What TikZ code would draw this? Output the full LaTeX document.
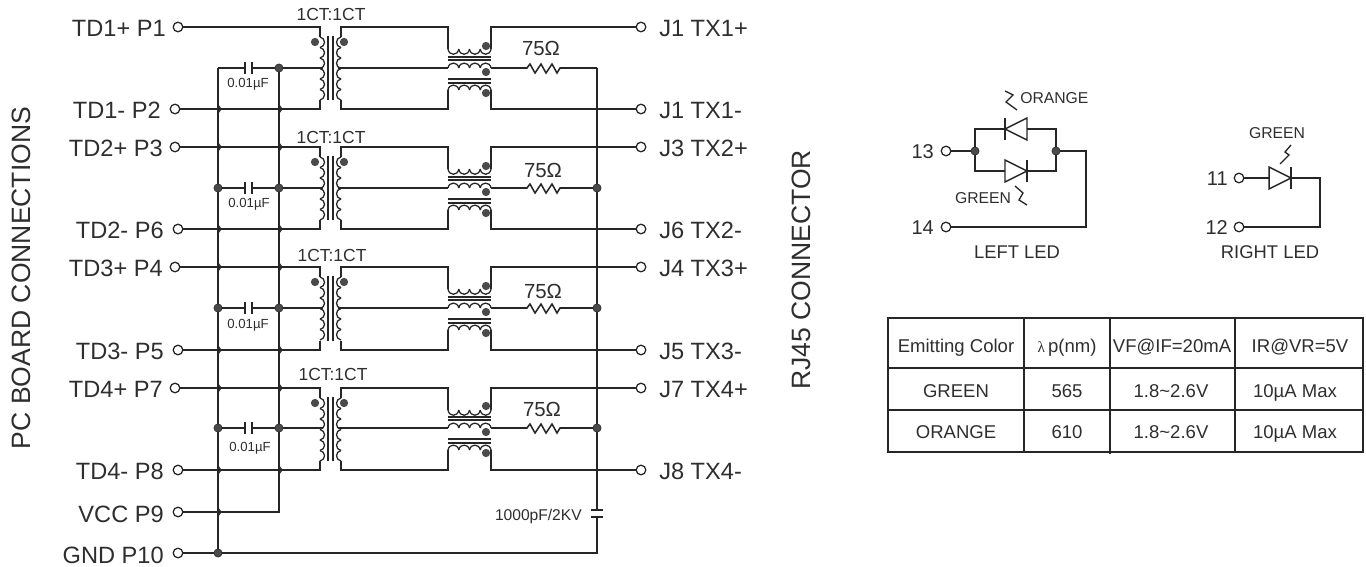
\documentclass[tikz,border=0pt]{standalone}
\usepackage{fontspec}
\setmainfont{Liberation Sans}
\newfontfamily\serifgr{Liberation Serif}
\definecolor{ink}{HTML}{262626}
\definecolor{txt}{HTML}{2E2E2E}
\definecolor{dotc}{HTML}{4A4A4A}
\newcommand\fsz[1]{\fontsize{#1}{#1}\selectfont}
\newcommand\coilrun[5]{% vertical coil: x, y0, bulge, count, pitch
  \foreach \k in {1,...,#4}{%
    \pgfmathsetmacro\ya{#2+(\k-1)*#5}\pgfmathsetmacro\yb{#2+\k*#5}%
    \pgfmathsetmacro\xc{#1+(#3)}%
    \draw[coilline] (#1,\ya) .. controls (\xc,\ya+1) and (\xc,\yb-1) .. (#1,\yb);}}
\newcommand\coilrunh[5]{% horizontal coil: y, x0, bulge, count, pitch
  \foreach \k in {1,...,#4}{%
    \pgfmathsetmacro\xa{#2+(\k-1)*#5}\pgfmathsetmacro\xb{#2+\k*#5}%
    \pgfmathsetmacro\yc{#1+(#3)}%
    \draw[coilline] (\xa,#1) .. controls (\xa+1,\yc) and (\xb-1,\yc) .. (\xb,#1);}}
\tikzset{
  wire/.style={draw=ink,line width=1.15pt,line join=miter},
  coilline/.style={draw=ink,line width=0.95pt},
  coreline/.style={draw=ink,line width=0.95pt},
  term/.style={circle,draw=ink,fill=white,line width=0.95pt,inner sep=0pt,minimum size=7.2pt},
  jdot/.style={circle,fill=dotc,draw=ink,line width=0.4pt,inner sep=0pt,minimum size=6.2pt},
  pdot/.style={circle,fill=dotc,inner sep=0pt,minimum size=6.2pt},
  biglab/.style={text=txt,font=\fsz{17.7},inner sep=0pt},
  ratio/.style={text=txt,font=\fsz{13.1},inner sep=0pt},
  ohm/.style={text=txt,font=\fsz{15.3},inner sep=0pt,text height=11pt,text depth=0pt},
  capv/.style={text=txt,font=\fsz{9.9},inner sep=0pt,text height=7.1pt,text depth=0pt},
  sidelab/.style={text=txt,font=\fsz{19.9},inner sep=0pt,rotate=90},
  ledlab/.style={text=txt,font=\fsz{11.8},inner sep=0pt},
  pinlab/.style={text=txt,font=\fsz{15},inner sep=0pt},
  ledname/.style={text=txt,font=\fsz{13.8},inner sep=0pt},
  tabtxt/.style={text=txt,font=\fsz{13.9},inner sep=0pt,text height=10pt,text depth=0pt},
  diode/.style={draw=ink,line width=1.1pt,line join=miter},
  glow/.style={draw=ink,line width=1pt},
}
\begin{document}
\begin{tikzpicture}[x=0.75pt,y=-0.75pt]
\useasboundingbox (0,0) rectangle (1366,567);
% side labels
\node[sidelab] (pcb) at (21,278) {PC BOARD CONNECTIONS};
\node[sidelab] (rj) at (801,270) {RJ45 CONNECTOR};
% channels
\foreach \n/\t/\c/\b/\xa/\xb/\la/\lb/\ra/\rb/\tx/\ty/\ox/\oy/\cx/\cy in {
  1/27/68/109/178/175/TD1+ P1/TD1- P2/J1 TX1+/J1 TX1-/331/14/541/48/248/83,
  2/147/188/229/175/178/TD2+ P3/TD2- P6/J3 TX2+/J6 TX2-/331/137/543/170/249/203,
  3/267/308/350/175/178/TD3+ P4/TD3- P5/J4 TX3+/J5 TX3-/332/255/543/291/248/324,
  4/388/428/470/175/178/TD4+ P7/TD4- P8/J7 TX4+/J8 TX4-/333/374/542/409/250/447}{
  \node[term] (lt\n) at (\xa,\t) {};
  \node[term] (lb\n) at (\xb,\b) {};
  \node[term] (rt\n) at (641,\t) {};
  \node[term] (rb\n) at (641,\b) {};
  \node[biglab,anchor=east] (ltl\n) at (\xa-12,\t+1) {\la};
  \node[biglab,anchor=east] (lbl\n) at (\xb-14,\b+1) {\lb};
  \node[biglab,anchor=west] (rtl\n) at (659,\t+1) {\ra};
  \node[biglab,anchor=west] (rbl\n) at (659,\b+1) {\rb};
  \node[ratio] (ct\n) at (\tx,\ty) {1CT:1CT};
  \node[ohm] (om\n) at (\ox,\oy) {75Ω};
  \node[capv] (cv\n) at (\cx,\cy) {0.01µF};
  \coordinate (pa\n) at (320,\t+10);
  \coordinate (pz\n) at (320,\b-9);
  \coordinate (sa\n) at (341,\t+10);
  \coordinate (sz\n) at (341,\b-9);
  \coordinate (ca\n) at (448,\t+22);
  \coordinate (cz\n) at (491,\t+22);
  \coordinate (da\n) at (448,\c+22);
  \coordinate (dz\n) at (491,\c+22);
  \coordinate (busa\n) at (218,\c);
  \coordinate (busb\n) at (279,\c);
  \coordinate (busr\n) at (597,\c);
  % primary and secondary wires
  \draw[wire] (lt\n.east) -| (pa\n);
  \draw[wire] (lb\n.east) -| (pz\n);
  \draw[wire] (rt\n.west) -| (cz\n);
  \draw[wire] (rb\n.west) -| (dz\n);
  \draw[wire] (sa\n) |- (448,\t) -- (ca\n);
  \draw[wire] (sz\n) |- (448,\b) -- (da\n);
  % centre tap with capacitor
  \draw[wire] (busa\n) -- (245,\c);
  \draw[wire] (252,\c) -- (323,\c);
  \draw[wire] (245,\c-6) -- (245,\c+6);
  \draw[wire] (252,\c-6) -- (252,\c+6);
  \draw[wire] (338,\c) -- (448,\c);
  \draw[wire] (491,\c) -- (527,\c) -- (530,\c-4) -- (535,\c+5) -- (541,\c-4) -- (546,\c+5) -- (552,\c-4) -- (557,\c+5) -- (560,\c) -- (busr\n);
  % isolation transformer
  \coilrun{320}{\t+10}{6}{6}{10.5}
  \coilrun{341}{\t+10}{-6}{6}{10.5}
  \draw[coreline] (328,\t+9) -- (328,\b-9);
  \draw[coreline] (333,\t+9) -- (333,\b-9);
  \node[pdot] (pd\n) at (315,\t+15) {};
  \node[pdot] (sd\n) at (344,\t+15) {};
  % common mode choke
  \coilrunh{\t+22}{448}{7}{4}{10.75}
  \coilrunh{\c}{448}{-6.5}{4}{10.75}
  \coilrunh{\c+22}{448}{-6.5}{4}{10.75}
  \draw[coreline] (448,\c-11) -- (491,\c-11);
  \draw[coreline] (448,\c-8) -- (491,\c-8);
  \draw[coreline] (448,\c+11) -- (491,\c+11);
  \draw[coreline] (448,\c+15) -- (491,\c+15);
  \node[pdot] (ka\n) at (486,\c-22) {};
  \node[pdot] (kb\n) at (486,\c+4) {};
  \node[pdot] (kc\n) at (486,\c+25) {};
  % small hops of the buses
  \draw[wire,line width=0.9pt] (218,\b-4) -- (221,\b) -- (218,\b+4);
  \draw[wire,line width=0.9pt] (279,\b-4) -- (282,\b) -- (279,\b+4);
}
\foreach \t in {147,267,388}{
  \draw[wire,line width=0.9pt] (218,\t-4) -- (221,\t) -- (218,\t+4);
  \draw[wire,line width=0.9pt] (279,\t-4) -- (282,\t) -- (279,\t+4);
}
% bottom terminals
\node[term] (vcc) at (178,512) {};
\node[term] (gnd) at (178,553) {};
\node[biglab,anchor=east] (vccl) at (164,514) {VCC P9};
\node[biglab,anchor=east] (gndl) at (164,555) {GND P10};
\coordinate (vb) at (279,512);
\coordinate (gr) at (597,553);
\coordinate (capt) at (597,510);
\coordinate (capb) at (597,517);
\node[jdot] (gj) at (218,553) {};
% buses
\draw[wire] (busa1) -- (gj);
\draw[wire] (busb1) -- (vb) -- (vcc.east);
\draw[wire] (busr1) -- (capt);
\draw[wire] (capb) -- (gr) -- (gj) -- (gnd.east);
\draw[wire] (591,510) -- (603,510);
\draw[wire] (591,517) -- (603,517);
\draw[wire,line width=0.9pt] (218,508) -- (221,512) -- (218,516);
\node[capv,font=\fsz{11.7},text height=8.4pt,anchor=east] (capl) at (582,515) {1000pF/2KV};
% junction dots
\node[jdot] at (busb1) {};
\foreach \n in {2,3,4}{
  \node[jdot] (ja\n) at (busa\n) {};
  \node[jdot] (jb\n) at (busb\n) {};
  \node[jdot] (jr\n) at (busr\n) {};
}
% left LED
\node[term] (p13) at (946,151) {};
\node[term] (p14) at (946,227) {};
\node[jdot] (jl) at (975,151) {};
\node[jdot] (jh) at (1056,151) {};
\node[pinlab,anchor=east] (n13) at (934,152) {13};
\node[pinlab,anchor=east] (n14) at (934,228) {14};
\draw[wire] (p13) -- (jl);
\draw[wire] (jl) |- (1005,129);
\draw[wire] (1027,129) -| (jh);
\draw[wire] (jl) |- (1005,171);
\draw[wire] (1027,171) -| (jh);
\draw[wire] (jh) -- (1086,151) |- (p14.east);
\draw[diode] (1027,118) -- (1027,140) -- (1005,129) -- cycle;
\draw[diode] (1005,118) -- (1005,140);
\draw[diode] (1005,160) -- (1005,182) -- (1027,171) -- cycle;
\draw[diode] (1027,160) -- (1027,182);
\draw[glow] (1005,91) -- (1013,95) -- (1006,102) -- (1017,110);
\draw[glow] (1015,186) -- (1023,193) -- (1019,200) -- (1027,205);
\node[ledlab,anchor=west] (lo) at (1020,98) {ORANGE};
\node[ledlab] (lg) at (983,198) {GREEN};
\node[ledname] (ll) at (1017,252) {LEFT LED};
% right LED
\node[term] (p11) at (1239,178) {};
\node[term] (p12) at (1239,227) {};
\node[pinlab,anchor=east] (n11) at (1228,179) {11};
\node[pinlab,anchor=east] (n12) at (1228,228) {12};
\draw[wire] (p11) -- (1269,178);
\draw[wire] (1291,178) -| (1320,227) -- (p12.east);
\draw[diode] (1269,167) -- (1269,189) -- (1291,178) -- cycle;
\draw[diode] (1291,167) -- (1291,189);
\draw[glow] (1291,145) -- (1285,152) -- (1289,155) -- (1280,164);
\node[ledlab] (rg) at (1277,133) {GREEN};
\node[ledname] (rl) at (1270,252) {RIGHT LED};
% table
\draw[wire] (888,318) rectangle (1363,452);
\draw[wire] (888,368) -- (1363,368);
\draw[wire] (888,410) -- (1363,410);
\draw[wire] (1024,318) -- (1024,452);
\draw[wire] (1110,318) -- (1110,454);
\draw[wire] (1235,318) -- (1235,452);
\node[tabtxt] (h1) at (956,346) {Emitting Color};
\node[tabtxt] (h2) at (1067,346) {{\serifgr\fsz{11.5}λ}\,p(nm)};
\node[tabtxt] (h3) at (1172,346) {VF@IF=20mA};
\node[tabtxt] (h4) at (1300,346) {IR@VR=5V};
\node[tabtxt] (a1) at (956,391) {GREEN};
\node[tabtxt] (a2) at (1067,391) {565};
\node[tabtxt] (a3) at (1171,391) {1.8\textasciitilde 2.6V};
\node[tabtxt] (a4) at (1295,391) {10µA Max};
\node[tabtxt] (b1) at (956,432) {ORANGE};
\node[tabtxt] (b2) at (1067,432) {610};
\node[tabtxt] (b3) at (1171,432) {1.8\textasciitilde 2.6V};
\node[tabtxt] (b4) at (1295,432) {10µA Max};
\end{tikzpicture}
\end{document}
